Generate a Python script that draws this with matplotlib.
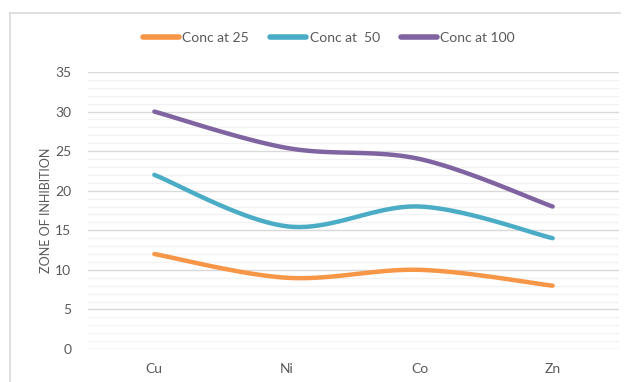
import matplotlib.pyplot as plt
import numpy as np
from matplotlib.lines import Line2D
from matplotlib.ticker import MultipleLocator

metals = ['Cu', 'Ni', 'Co', 'Zn']
conc_25 = [12, 9, 10, 8]
conc_50 = [22, 15.5, 18, 14]
conc_100 = [30, 25.4, 24, 18]
series_names = ['Conc at 25', 'Conc at  50', 'Conc at 100']
colors = ['#F79646', '#4BACC6', '#8064A2']

plt.rcParams['font.family'] = ['Lato', 'DejaVu Sans']


def smooth(xs, ys, n=40):
    # cardinal spline through the points, bezier segments like office "smoothed line"
    xs = np.asarray(xs, float)
    ys = np.asarray(ys, float)
    pts = np.column_stack([xs, ys])
    ext = np.vstack([pts[0], pts, pts[-1]])
    out = []
    t = np.linspace(0, 1, n)[:, None]
    for i in range(len(pts) - 1):
        p0, p1, p2, p3 = ext[i], ext[i + 1], ext[i + 2], ext[i + 3]
        c1 = p1 + (p2 - p0) / 6
        c2 = p2 - (p3 - p1) / 6
        seg = ((1 - t) ** 3) * p1 + 3 * ((1 - t) ** 2) * t * c1 + 3 * (1 - t) * t ** 2 * c2 + t ** 3 * p2
        out.append(seg if i == 0 else seg[1:])
    out = np.vstack(out)
    return out[:, 0], out[:, 1]


fig = plt.figure(figsize=(6.3, 3.82), dpi=100)
ax = fig.add_axes([88 / 630, 1 - 349 / 382, 531 / 630, 277 / 382])

x = np.arange(len(metals))
for vals, c in zip([conc_25, conc_50, conc_100], colors):
    sx, sy = smooth(x, vals)
    ax.plot(sx, sy, color=c, lw=3.2, solid_capstyle='round', zorder=3)

ax.set_xlim(-0.5, len(metals) - 0.5)
ax.set_ylim(0, 35)
ax.set_xticks(x)
ax.set_xticklabels(metals)
ax.yaxis.set_major_locator(MultipleLocator(5))
ax.yaxis.set_minor_locator(MultipleLocator(1))
ax.grid(which='major', axis='y', color='#D9D9D9', lw=1.0)
ax.grid(which='minor', axis='y', color='#F2F2F2', lw=1.0)
ax.set_axisbelow(True)
for s in ax.spines.values():
    s.set_visible(False)
ax.tick_params(axis='both', which='both', length=0, colors='#595959', labelsize=10)
ax.tick_params(axis='y', pad=12)
ax.tick_params(axis='x', pad=10)
ax.set_ylabel('ZONE OF INHIBITION', color='#595959', fontsize=9, labelpad=2)

handles = [Line2D([0], [0], color=c, lw=4, solid_capstyle='round') for c in colors]
fig.legend(handles, series_names, loc='center', bbox_to_anchor=(0.522, 1 - 38 / 382),
           ncol=3, frameon=False, fontsize=10, handlelength=2.6, handletextpad=0.25,
           columnspacing=1.5, labelcolor='#595959')

# chart area border (left and top edges)
fig.add_artist(Line2D([10 / 630, 10 / 630], [0, 1 - 13 / 382], color='#D9D9D9', lw=1.2,
                      transform=fig.transFigure))
fig.add_artist(Line2D([10 / 630, 620 / 630], [1 - 13 / 382, 1 - 13 / 382], color='#D9D9D9',
                      lw=1.2, transform=fig.transFigure))

fig.savefig('out.png', dpi=100)
